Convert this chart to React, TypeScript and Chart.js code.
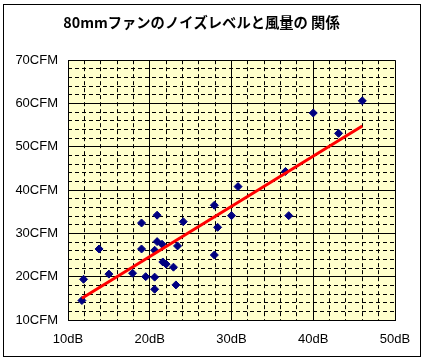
import React, { useEffect, useRef } from "react";
import { Chart, registerables } from "chart.js";

Chart.register(...registerables);

const TITLE = "80mmファンのノイズレベルと風量の 関係";

// noise level (dB) of each fan
const noiseDb = [
  11.7, 11.9, 13.8, 15.0, 17.9, 19.0, 19.0, 19.5, 20.9, 20.6,
  20.6, 20.6, 20.9, 21.5, 21.6, 22.0, 22.9, 23.2, 23.4, 24.1,
  27.9, 28.3, 27.9, 30.0, 30.8, 36.6, 37.0, 40.0, 43.1, 46.0,
];
// airflow (CFM) of each fan
const airflowCfm = [
  14.5, 19.4, 26.4, 20.6, 20.8, 32.4, 26.4, 20.0, 34.2, 26.1,
  19.9, 17.1, 28.1, 27.5, 23.4, 22.9, 22.2, 18.1, 27.1, 32.7,
  36.5, 31.4, 25.0, 34.1, 40.8, 44.3, 34.1, 57.8, 53.1, 60.6,
];
// linear trend line end points
const trendDb = [11.7, 46.0];
const trendCfm = [15.0, 54.8];

const xRange = [10, 50];
const yRange = [10, 70];
const majorStep = 10;
const minorStep = 2;
const xUnit = "dB";
const yUnit = "CFM";

const plotBg: any = {
  id: "plotBg",
  beforeDraw(chart: any) {
    const { ctx, chartArea } = chart;
    ctx.save();
    ctx.fillStyle = "#FFFFCC";
    ctx.fillRect(chartArea.left, chartArea.top, chartArea.right - chartArea.left, chartArea.bottom - chartArea.top);
    ctx.restore();
  },
};

export default function App() {
  const ref = useRef<HTMLCanvasElement | null>(null);
  useEffect(() => {
    if (!ref.current) return;
    const tickFont = { family: "'Liberation Sans', Arial, sans-serif", size: 13 };
    const chart = new Chart(ref.current, {
      type: "scatter",
      data: {
        datasets: [
          {
            type: "line",
            data: trendDb.map((x, i) => ({ x, y: trendCfm[i] })),
            borderColor: "#FF0000",
            borderWidth: 3,
            pointRadius: 0,
            fill: false,
            order: 0,
          } as any,
          {
            data: noiseDb.map((x, i) => ({ x, y: airflowCfm[i] })),
            backgroundColor: "#000080",
            borderColor: "#000080",
            pointStyle: "rectRot",
            pointRadius: 4,
            borderWidth: 1,
            order: 1,
          },
        ],
      },
      options: {
        animation: false,
        responsive: false,
        layout: { padding: { left: 8, right: 31, top: 0, bottom: 13 } },
        plugins: {
          legend: { display: false },
          tooltip: { enabled: false },
          title: {
            display: true,
            text: TITLE,
            color: "#000",
            font: { family: "'Noto Sans CJK JP', sans-serif", size: 14.3, weight: "bold", lineHeight: 1.2 },
            padding: { top: 14, bottom: 29 },
          },
        },
        scales: {
          x2: {
            type: "linear",
            position: "bottom",
            min: xRange[0],
            max: xRange[1],
            ticks: { display: false, stepSize: minorStep },
            grid: {
              color: (c: any) => (c.tick && c.tick.value % majorStep === 0 ? "rgba(0,0,0,0)" : "#000"),
              lineWidth: 1,
              drawTicks: false,
            },
            border: { display: false, dash: [4, 3] },
            afterFit: (s: any) => { s.height = 0; },
          },
          y2: {
            type: "linear",
            position: "left",
            min: yRange[0],
            max: yRange[1],
            ticks: { display: false, stepSize: minorStep },
            grid: {
              color: (c: any) => (c.tick && c.tick.value % majorStep === 0 ? "rgba(0,0,0,0)" : "#000"),
              lineWidth: 1,
              drawTicks: false,
            },
            border: { display: false, dash: [4, 3] },
            afterFit: (s: any) => { s.width = 0; },
          },
          x: {
            type: "linear",
            position: "bottom",
            min: xRange[0],
            max: xRange[1],
            ticks: {
              stepSize: majorStep,
              color: "#000",
              font: tickFont,
              padding: 12,
              maxRotation: 0,
              callback: (v: any) => `${v}${xUnit}`,
            },
            grid: { color: "#000", lineWidth: 1, drawTicks: false },
            border: { display: true, color: "#000", width: 1 },
            afterFit: (s: any) => { s.height = 30; },
          },
          y: {
            type: "linear",
            position: "left",
            min: yRange[0],
            max: yRange[1],
            ticks: {
              stepSize: majorStep,
              color: "#000",
              font: tickFont,
              padding: 10,
              callback: (v: any) => `${v}${yUnit}`,
            },
            grid: { color: "#000", lineWidth: 1, drawTicks: false },
            border: { display: true, color: "#000", width: 1 },
            afterFit: (s: any) => { s.width = 60; },
          },
        },
      },
      plugins: [plotBg],
    } as any);
    return () => chart.destroy();
  }, []);

  return (
    <div style={{ position: "absolute", left: 0, top: 0, width: 426, height: 363, background: "#fff" }}>
      <div
        style={{
          position: "absolute",
          left: 3,
          top: 4,
          width: 418,
          height: 353,
          boxSizing: "border-box",
          border: "1px solid #000",
        }}
      />
      <canvas ref={ref} width={426} height={363} style={{ position: "absolute", left: 0, top: 0, width: 426, height: 363 }} />
    </div>
  );
}
